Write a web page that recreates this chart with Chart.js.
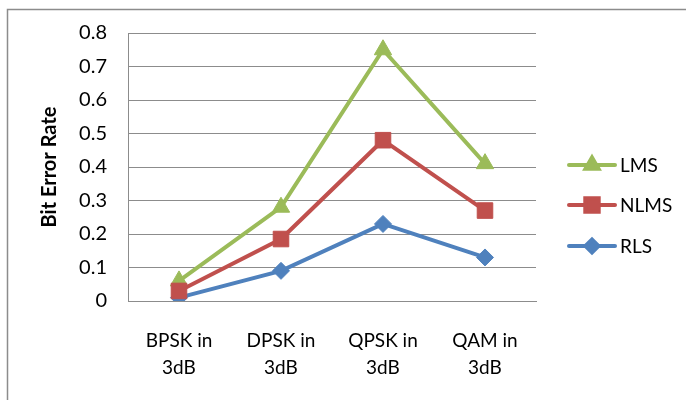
<!DOCTYPE html>
<html>
<head>
<meta charset="utf-8">
<script src="https://cdn.jsdelivr.net/npm/chart.js@4/dist/chart.umd.min.js"></script>
<style>
  html, body { margin: 0; padding: 0; background: #ffffff; }
  #wrap { width: 686px; height: 400px; position: relative; }
</style>
</head>
<body>
<div id="wrap"><canvas id="ber"></canvas></div>
<script>
// Modulation schemes (two-line category labels)
const categories = [
  ['BPSK in', '3dB'],
  ['DPSK in', '3dB'],
  ['QPSK in', '3dB'],
  ['QAM in', '3dB']
];

// Bit error rate per equalizer algorithm
const lmsValues  = [0.06, 0.28, 0.75, 0.41];
const nlmsValues = [0.03, 0.185, 0.48, 0.27];
const rlsValues  = [0.01, 0.09, 0.23, 0.13];

// Value axis
const yMin = 0;
const yMax = 0.8;
const yStep = 0.1;

const seriesNames = ['LMS', 'NLMS', 'RLS'];
const colors = { LMS: '#9BBB59', NLMS: '#C0504D', RLS: '#4F81BD' };
const FONT = 'Lato';

// Legend drawn as a line segment with the series marker in the middle
const sideLegend = {
  id: 'sideLegend',
  afterDraw(chart) {
    const ctx = chart.ctx;
    const rows = [165, 205, 246];
    const x0 = 569, x1 = 615, xm = 592;
    chart.data.datasets.slice().sort((a, b) => seriesNames.indexOf(a.label) - seriesNames.indexOf(b.label))
      .forEach((ds, i) => {
        const y = rows[i];
        ctx.save();
        ctx.strokeStyle = ds.borderColor;
        ctx.lineWidth = 4;
        ctx.lineCap = 'round';
        ctx.beginPath();
        ctx.moveTo(x0, y);
        ctx.lineTo(x1, y);
        ctx.stroke();
        ctx.fillStyle = ds.pointBackgroundColor;
        ctx.strokeStyle = ds.pointBorderColor;
        Chart.helpers.drawPoint(ctx, {
          pointStyle: ds.pointStyle,
          radius: ds.legendRadius,
          rotation: 0,
          borderWidth: 1
        }, xm, y);
        ctx.fillStyle = '#000000';
        ctx.font = '19px ' + FONT;
        ctx.textAlign = 'left';
        ctx.textBaseline = 'middle';
        ctx.fillText(ds.label, 620, y + 1);
        ctx.restore();
      });
  }
};

// Thin frame around the chart
const frame = {
  id: 'frame',
  beforeDraw(chart) {
    const ctx = chart.ctx;
    ctx.save();
    ctx.strokeStyle = '#8c8c8c';
    ctx.lineWidth = 1.5;
    ctx.strokeRect(7.5, 9.5, 720, 430);
    ctx.restore();
  }
};

function series(label, values, style, radius, legendRadius, order) {
  const c = colors[label];
  return {
    label: label,
    data: values,
    borderColor: c,
    backgroundColor: c,
    pointBackgroundColor: c,
    pointBorderColor: c,
    borderWidth: 4,
    pointStyle: style,
    pointRadius: radius,
    pointHoverRadius: radius,
    pointBorderWidth: 1,
    legendRadius: legendRadius,
    tension: 0,
    order: order
  };
}

new Chart(document.getElementById('ber'), {
  type: 'line',
  data: {
    labels: categories,
    datasets: [
      series('LMS', lmsValues, 'triangle', 10, 7.5, 1),
      series('NLMS', nlmsValues, 'rect', 11, 9.5, 0),
      series('RLS', rlsValues, 'rectRot', 8.5, 6.5, 2)
    ]
  },
  options: {
    responsive: true,
    maintainAspectRatio: false,
    animation: false,
    layout: { padding: { left: 0, top: 33, right: 150, bottom: 0 } },
    plugins: {
      legend: { display: false },
      tooltip: { enabled: false }
    },
    scales: {
      x: {
        offset: true,
        grid: { display: false, drawTicks: false },
        border: { display: true, color: '#8c8c8c', width: 1 },
        ticks: {
          color: '#000000',
          padding: 26,
          maxRotation: 0,
          autoSkip: false,
          font: { family: FONT, size: 19, lineHeight: 27 / 19 }
        },
        afterFit(scale) { scale.height = 99; }
      },
      y: {
        min: yMin,
        max: yMax,
        grid: { color: '#8c8c8c', lineWidth: 1, drawTicks: false },
        border: { display: true, color: '#8c8c8c', width: 1 },
        ticks: {
          stepSize: yStep,
          color: '#000000',
          padding: 21,
          font: { family: FONT, size: 20 },
          callback: (v) => (v === 0 ? '0' : Number(v).toFixed(1))
        },
        title: {
          display: true,
          text: 'Bit Error Rate',
          color: '#000000',
          font: { family: FONT, size: 20, weight: 'bold', lineHeight: 1.2 },
          padding: { top: 38, bottom: 0 }
        },
        afterFit(scale) { scale.width = 128; }
      }
    }
  },
  plugins: [frame, sideLegend]
});
</script>
</body>
</html>
